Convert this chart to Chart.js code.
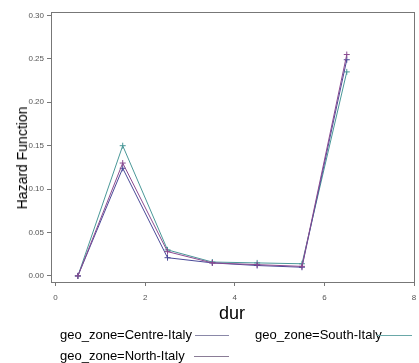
<!DOCTYPE html>
<html><head><meta charset="utf-8">
<script src="https://cdn.jsdelivr.net/npm/chart.js@4.4.0/dist/chart.umd.min.js"></script>
<style>
html,body{margin:0;padding:0;background:#fff;}
#wrap{position:relative;width:419px;height:363px;font-family:"Liberation Sans",Arial,sans-serif;}
canvas{position:absolute;left:0;top:0;}
.t{position:absolute;white-space:nowrap;color:#000;}
.ln{position:absolute;height:1px;}
</style></head><body>
<div id="wrap">
<canvas id="c" width="419" height="363"></canvas>
<div class="t" style="left:22px;top:158px;font-size:14px;transform:translate(-50%,-50%) rotate(-90deg);">Hazard Function</div>
<div class="t" style="left:232px;top:313px;font-size:18px;transform:translate(-50%,-50%);">dur</div>
<div class="t" style="left:60px;top:327px;font-size:13px;">geo_zone=Centre-Italy</div>
<div class="ln" style="left:195px;width:34px;top:335px;background:#8a88a8;"></div>
<div class="t" style="left:255px;top:327px;font-size:13px;">geo_zone=South-Italy</div>
<div class="ln" style="left:377px;width:35px;top:335px;background:#6aa8a8;"></div>
<div class="t" style="left:60px;top:348px;font-size:13px;">geo_zone=North-Italy</div>
<div class="ln" style="left:194px;width:35px;top:356px;background:#8a7c96;"></div>
</div>
<script>
const durValues = [0.5, 1.5, 2.5, 3.5, 4.5, 5.5, 6.5];
const centreItaly = [0, 0.130, 0.028, 0.015, 0.013, 0.011, 0.255];
const northItaly = [0, 0.124, 0.021, 0.015, 0.012, 0.010, 0.249];
const southItaly = [0, 0.150, 0.030, 0.016, 0.015, 0.014, 0.235];
const xTicks = [0, 2, 4, 6, 8];
const yTicks = [0, 0.05, 0.10, 0.15, 0.20, 0.25, 0.30];

function pts(ys){ return durValues.map((x,i)=>({x:x,y:ys[i]})); }
function ds(label, ys, color){
  return {label:label, data:pts(ys), borderColor:color, backgroundColor:color,
    borderWidth:1, pointStyle:'cross', pointRadius:3, pointBorderWidth:1, tension:0, fill:false};
}
const frame = {id:'frame', afterDraw(chart){
  const a = chart.chartArea, ctx = chart.ctx;
  ctx.save(); ctx.strokeStyle = '#777'; ctx.lineWidth = 1;
  ctx.strokeRect(Math.round(a.left)+0.5, Math.round(a.top)+0.5, Math.round(a.right-a.left), Math.round(a.bottom-a.top));
  ctx.restore();
}};
new Chart(document.getElementById('c'), {
  type:'line',
  data:{datasets:[
    ds('geo_zone=Centre-Italy', centreItaly, '#8a4a90'),
    ds('geo_zone=North-Italy', northItaly, '#4a4a98'),
    ds('geo_zone=South-Italy', southItaly, '#4a9898')
  ]},
  options:{
    responsive:false, animation:false,
    layout:{padding:{left:0, right:3, top:12, bottom:40}},
    plugins:{legend:{display:false}, tooltip:{enabled:false}},
    scales:{
      x:{type:'linear', min:-0.1, max:8,
        afterBuildTicks(s){ s.ticks = xTicks.map(v=>({value:v})); },
        afterFit(s){ s.height = 41; s.paddingLeft = 0; s.paddingRight = 0; },
        grid:{drawOnChartArea:false, drawTicks:true, tickLength:4, color:'#777'},
        border:{color:'#777'},
        ticks:{font:{size:8, family:'"Liberation Sans", Arial'}, color:'#555', padding:7, maxRotation:0,
          callback:v=>String(v)}
      },
      y:{type:'linear', min:-0.007, max:0.304,
        afterBuildTicks(s){ s.ticks = yTicks.map(v=>({value:v})); },
        afterFit(s){ s.width = 51; s.paddingTop = 0; s.paddingBottom = 0; },
        grid:{drawOnChartArea:false, drawTicks:true, tickLength:4, color:'#777'},
        border:{color:'#777'},
        ticks:{font:{size:8, family:'"Liberation Sans", Arial'}, color:'#555', padding:3,
          callback:v=>Number(v).toFixed(2)}
      }
    }
  },
  plugins:[frame]
});
</script>
</body></html>
